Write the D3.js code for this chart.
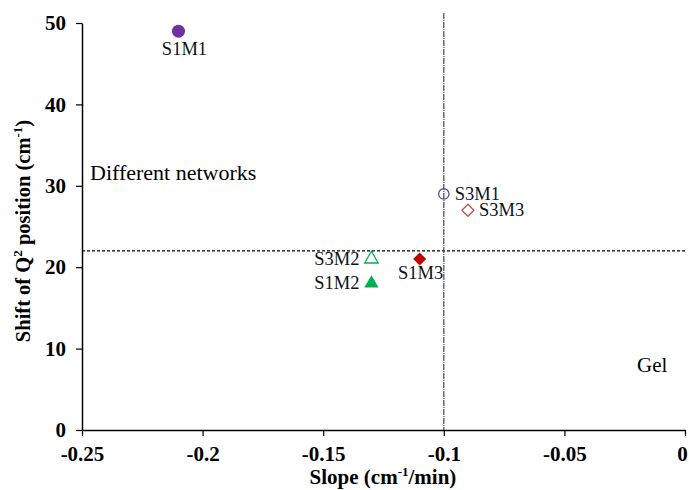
<!DOCTYPE html>
<html><head><meta charset="utf-8">
<script src="https://cdn.jsdelivr.net/npm/d3@7"></script>
<style>body{margin:0;background:#fff}svg{display:block}</style>
</head><body>
<svg id="c" width="689" height="490"></svg>
<script>
const names = ["S1M1","S3M1","S3M3","S3M2","S1M2","S1M3"];
const slopes = [-0.21,-0.10,-0.09,-0.13,-0.13,-0.11];
const shifts = [49,29,27,21,18,21];
const shapes = ["circle","circle","diamond","triangle","triangle","diamond"];
const filled = [true,false,false,false,true,true];
const colors = ["#7030A0","#5E4B9C","#C0504D","#00B050","#00B050","#C00000"];
const labelPos = ["below","right","right","left","left","below"];
const xTicks = [-0.25,-0.2,-0.15,-0.1,-0.05,0];
const yTicks = [0,10,20,30,40,50];
const hLine = 22, vLine = -0.1;

const svg = d3.select("#c");
const x = d3.scaleLinear().domain([-0.25,0]).range([82,685]);
const y = d3.scaleLinear().domain([0,50]).range([430,23]);
const font = "'Liberation Serif','Times New Roman',serif";

// reference lines
svg.append("line").attr("x1",x(-0.25)).attr("x2",687).attr("y1",y(hLine)).attr("y2",y(hLine))
  .attr("stroke","#000").attr("stroke-width",1.2).attr("stroke-dasharray","3,2");
svg.append("line").attr("x1",x(vLine)).attr("x2",x(vLine)).attr("y1",13).attr("y2",y(0))
  .attr("stroke","#555").attr("stroke-width",1.3).attr("stroke-dasharray","6,1,1,1");

// axes
const xa = svg.append("g").attr("transform",`translate(0,${y(0)})`)
  .call(d3.axisBottom(x).tickValues(xTicks).tickFormat(d=>d===0?"0":String(d)).tickSize(6).tickSizeOuter(0));
const ya = svg.append("g").attr("transform",`translate(${x(-0.25)},0)`)
  .call(d3.axisLeft(y).tickValues(yTicks).tickSize(6).tickSizeOuter(0));
[xa,ya].forEach(a=>{
  a.select(".domain").attr("stroke","#000").attr("stroke-width",1.5);
  a.selectAll(".tick line").attr("stroke","#000").attr("stroke-width",1.2);
  a.selectAll("text").attr("font-family",font).attr("font-weight","bold").attr("font-size",21).attr("fill","#000");
});
xa.selectAll("text").attr("y",16);
xa.selectAll(".tick").filter(d=>d===0).select("text").attr("x",-3);
ya.selectAll("text").attr("x",-16);

// axis titles
const xt = svg.append("text").attr("x",383).attr("y",484).attr("text-anchor","middle")
  .attr("font-family",font).attr("font-weight","bold").attr("font-size",21);
xt.append("tspan").text("Slope (cm");
xt.append("tspan").text("-1").attr("font-size",13).attr("dy",-8);
xt.append("tspan").text("/min)").attr("dy",8);

const yt = svg.append("text").attr("transform","translate(30,231) rotate(-90)").attr("text-anchor","middle")
  .attr("font-family",font).attr("font-weight","bold").attr("font-size",20.5);
yt.append("tspan").text("Shift of Q");
yt.append("tspan").text("2").attr("font-size",13).attr("dy",-8);
yt.append("tspan").text(" position (cm").attr("dy",8);
yt.append("tspan").text("-1").attr("font-size",13).attr("dy",-8);
yt.append("tspan").text(")").attr("dy",8);

// region annotations
svg.append("text").attr("x",90).attr("y",180).text("Different networks")
  .attr("font-family",font).attr("font-size",22);
svg.append("text").attr("x",637).attr("y",372).text("Gel")
  .attr("font-family",font).attr("font-size",21);

// points
const sym = {circle:d3.symbolCircle, diamond:d3.symbolSquare, triangle:d3.symbolTriangle};
const sizes = {circle:[133,85], diamond:[85,72], triangle:[88,80]};
names.forEach((n,i)=>{
  const px = x(slopes[i]), py = y(shifts[i]);
  const size = sizes[shapes[i]][filled[i]?0:1];
  svg.append("path").attr("d",d3.symbol().type(sym[shapes[i]]).size(size)())
    .attr("transform",`translate(${px},${py})` + (shapes[i]==="diamond"?" rotate(45)":""))
    .attr("fill",filled[i]?colors[i]:"none")
    .attr("stroke",colors[i]).attr("stroke-width",filled[i]?0:1.3);
  const t = svg.append("text").text(n).attr("font-family",font).attr("font-size",18.5).attr("fill","#111");
  if(labelPos[i]==="below") t.attr("x",px+(i===0?6:1)).attr("y",py+(i===0?24:20)).attr("text-anchor","middle");
  else if(labelPos[i]==="right") t.attr("x",px+11).attr("y",py+6);
  else t.attr("x",px-12).attr("y",py+6).attr("text-anchor","end");
});
</script>
</body></html>
